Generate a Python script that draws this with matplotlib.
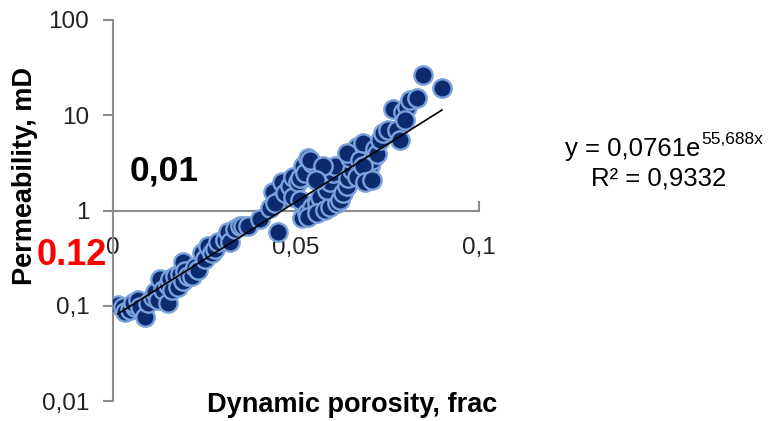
import numpy as np
import matplotlib
matplotlib.use("Agg")
import matplotlib.pyplot as plt

plt.rcParams['font.family'] = ['Liberation Sans', 'DejaVu Sans']

# porosity (frac) vs permeability (mD)
poro = [0.0014, 0.0027, 0.0033, 0.0046, 0.0060, 0.0055, 0.0068, 0.0074, 0.0087, 0.0096,
        0.0109, 0.0115, 0.0123, 0.0128, 0.0137, 0.0150, 0.0150, 0.0156, 0.0161, 0.0169,
        0.0178, 0.0183, 0.0191, 0.0191, 0.0197, 0.0205, 0.0216, 0.0224, 0.0232, 0.0243,
        0.0251, 0.0260, 0.0270, 0.0279, 0.0287, 0.0306, 0.0314, 0.0320, 0.0333, 0.0347,
        0.0355, 0.0369, 0.0402, 0.0429, 0.0437, 0.0451, 0.0462, 0.0456, 0.0443, 0.0470,
        0.0484, 0.0492, 0.0492, 0.0505, 0.0511, 0.0511, 0.0519, 0.0525, 0.0533, 0.0544,
        0.0538, 0.0516, 0.0530, 0.0544, 0.0557, 0.0566, 0.0533, 0.0557, 0.0579, 0.0593,
        0.0612, 0.0585, 0.0593, 0.0601, 0.0607, 0.0574, 0.0556, 0.0620, 0.0628, 0.0639,
        0.0642, 0.0653, 0.0656, 0.0667, 0.0648, 0.0639, 0.0675, 0.0683, 0.0697, 0.0702,
        0.0708, 0.0716, 0.0721, 0.0730, 0.0738, 0.0751, 0.0776, 0.0784, 0.0765, 0.0792,
        0.0803, 0.0811, 0.0831, 0.0798, 0.0847, 0.0899, 0.0667, 0.0683, 0.0689, 0.0708]
perm = [0.103, 0.098, 0.085, 0.091, 0.098, 0.108, 0.116, 0.098, 0.077, 0.108,
        0.125, 0.138, 0.116, 0.189, 0.148, 0.108, 0.167, 0.189, 0.148, 0.203,
        0.156, 0.218, 0.285, 0.180, 0.229, 0.203, 0.203, 0.258, 0.240, 0.362,
        0.306, 0.419, 0.362, 0.390, 0.462, 0.496, 0.588, 0.462, 0.632, 0.680,
        0.680, 0.680, 0.805, 1.07, 1.58, 0.588, 1.97, 1.30, 1.21, 1.54,
        1.79, 2.27, 1.40, 2.00, 2.22, 1.30, 2.90, 2.50, 3.60, 3.19,
        3.43, 0.84, 0.95, 1.10, 1.21, 1.40, 0.86, 0.95, 1.02, 1.10,
        1.21, 1.66, 2.00, 2.50, 2.90, 2.90, 2.10, 1.30, 1.54, 1.79,
        2.20, 2.69, 4.06, 4.60, 3.60, 4.06, 3.43, 5.17, 2.50, 2.90,
        3.43, 4.37, 3.90, 5.56, 6.58, 7.08, 7.08, 5.56, 11.5, 10.7,
        12.3, 14.6, 15.3, 9.02, 26.7, 19.5, 2.27, 2.90, 1.97, 2.11]

# exponential trend from the chart
trend_a = 0.0761
trend_b = 55.688
eq_text = "y = 0,0761e"
eq_power = "55,688x"
r2_text = "R² = 0,9332"

x_ticks = [0, 0.05, 0.1]
x_tick_labels = ["0", "0,05", "0,1"]
y_ticks = [0.01, 0.1, 1, 10, 100]
y_tick_labels = ["0,01", "0,1", "1", "10", "100"]

fig = plt.figure(figsize=(7.68, 4.21), dpi=100)
ax = fig.add_axes([0.147, 0.0475, 0.4767, 0.905])

ax.scatter(poro, perm, s=175, facecolor="#0b2b6e", edgecolor="#7aa2dc",
           linewidth=1.7, zorder=3)

xt = np.linspace(min(poro), max(poro), 100)
ax.plot(xt, trend_a * np.exp(trend_b * xt), color="black", lw=1.2, zorder=4)

ax.set_yscale("log")
ax.set_xlim(0, 0.1)
ax.set_ylim(0.01, 100)
ax.spines["top"].set_visible(False)
ax.spines["right"].set_visible(False)
ax.spines["bottom"].set_position(("data", 1))
for s in ("left", "bottom"):
    ax.spines[s].set_color("#8c8c8c")
    ax.spines[s].set_linewidth(1.5)

ax.set_xticks(x_ticks)
ax.set_xticklabels(x_tick_labels)
ax.set_yticks(y_ticks)
ax.set_yticklabels(y_tick_labels)
ax.minorticks_off()
ax.tick_params(axis="y", direction="out", length=7, width=1.5, color="#8c8c8c",
               labelsize=17.5, pad=10, labelcolor="#222222")
ax.tick_params(axis="x", direction="in", length=7, width=1.5, color="#8c8c8c",
               labelsize=17.5, pad=19, labelcolor="#222222")

fig.text(0.033, 0.582, "Permeability, mD", rotation=90, fontsize=19.5,
         fontweight="bold", ha="center", va="center")
fig.text(0.459, 0.038, "Dynamic porosity, frac", fontsize=19.5,
         fontweight="bold", ha="center", va="center")

fig.text(0.214, 0.594, "0,01", fontsize=25.5, fontweight="bold", ha="center", va="center")
fig.text(0.094, 0.392, "0.12", fontsize=26, fontweight="bold", color="#ff0000",
         ha="center", va="center")

fig.text(0.912, 0.647, eq_text, fontsize=18.5, ha="right", va="center")
fig.text(0.913, 0.668, eq_power, fontsize=12.5, ha="left", va="center")
fig.text(0.858, 0.577, r2_text, fontsize=18.5, ha="center", va="center")

fig.savefig("out.png", dpi=100)
